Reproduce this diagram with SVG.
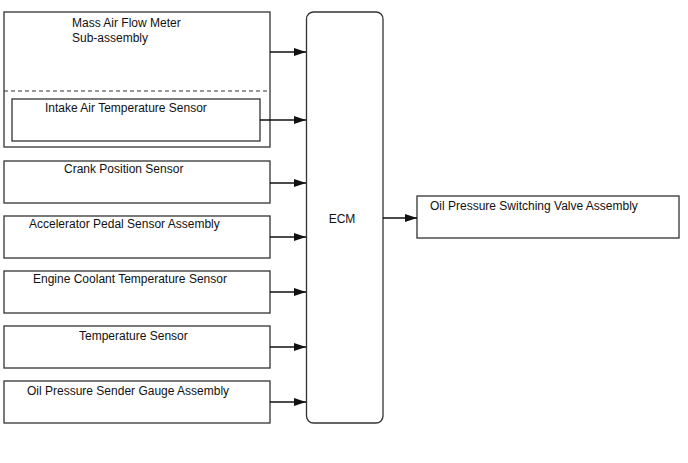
<svg xmlns="http://www.w3.org/2000/svg" width="688" height="463" viewBox="0 0 688 463">
<style>
.box{fill:#fff;stroke:#333;stroke-width:1.3}
.t{font-family:"Liberation Sans",Arial,sans-serif;font-size:12px;fill:#111}
.c{stroke:#111;stroke-width:1.3;fill:none}
</style>
<defs>
<marker id="ah" markerWidth="12" markerHeight="10" refX="12" refY="5" orient="auto" markerUnits="userSpaceOnUse">
<path d="M0,1 L12,5 L0,9 Z" fill="#111"/>
</marker>
</defs>
<rect width="688" height="463" fill="#fff"/>
<g id="maf">
<rect class="box" x="4" y="12" width="266" height="135"/>
<line x1="4" y1="91" x2="270" y2="91" stroke="#333" stroke-width="1.2" stroke-dasharray="4,3"/>
<text class="t" x="72" y="27">Mass Air Flow Meter</text>
<text class="t" x="72" y="42">Sub-assembly</text>
</g>
<g id="iat">
<rect class="box" x="12" y="99" width="248" height="42"/>
<text class="t" x="45" y="112">Intake Air Temperature Sensor</text>
</g>
<g id="crank">
<rect class="box" x="4" y="161" width="266" height="42"/>
<text class="t" x="64" y="173">Crank Position Sensor</text>
</g>
<g id="accel">
<rect class="box" x="4" y="216" width="266" height="42"/>
<text class="t" x="29" y="228">Accelerator Pedal Sensor Assembly</text>
</g>
<g id="ect">
<rect class="box" x="4" y="271" width="266" height="42"/>
<text class="t" x="33" y="283">Engine Coolant Temperature Sensor</text>
</g>
<g id="temp">
<rect class="box" x="4" y="326" width="266" height="42"/>
<text class="t" x="79" y="340">Temperature Sensor</text>
</g>
<g id="opsg">
<rect class="box" x="4" y="381" width="266" height="42"/>
<text class="t" x="27" y="395">Oil Pressure Sender Gauge Assembly</text>
</g>
<g id="ecm">
<rect class="box" x="306.5" y="12" width="76.5" height="411" rx="7" ry="7"/>
<text class="t" x="342" y="223" text-anchor="middle">ECM</text>
</g>
<g id="ocv">
<rect class="box" x="417" y="196" width="262" height="42"/>
<text class="t" x="430" y="210">Oil Pressure Switching Valve Assembly</text>
</g>
<g id="connectors">
<line class="c" x1="270" y1="52" x2="306" y2="52" marker-end="url(#ah)"/>
<line class="c" x1="260" y1="120" x2="306" y2="120" marker-end="url(#ah)"/>
<line class="c" x1="270" y1="183" x2="306" y2="183" marker-end="url(#ah)"/>
<line class="c" x1="270" y1="237" x2="306" y2="237" marker-end="url(#ah)"/>
<line class="c" x1="270" y1="292" x2="306" y2="292" marker-end="url(#ah)"/>
<line class="c" x1="270" y1="347" x2="306" y2="347" marker-end="url(#ah)"/>
<line class="c" x1="270" y1="402" x2="306" y2="402" marker-end="url(#ah)"/>
<line class="c" x1="383" y1="218" x2="417" y2="218" marker-end="url(#ah)"/>
</g>
</svg>
